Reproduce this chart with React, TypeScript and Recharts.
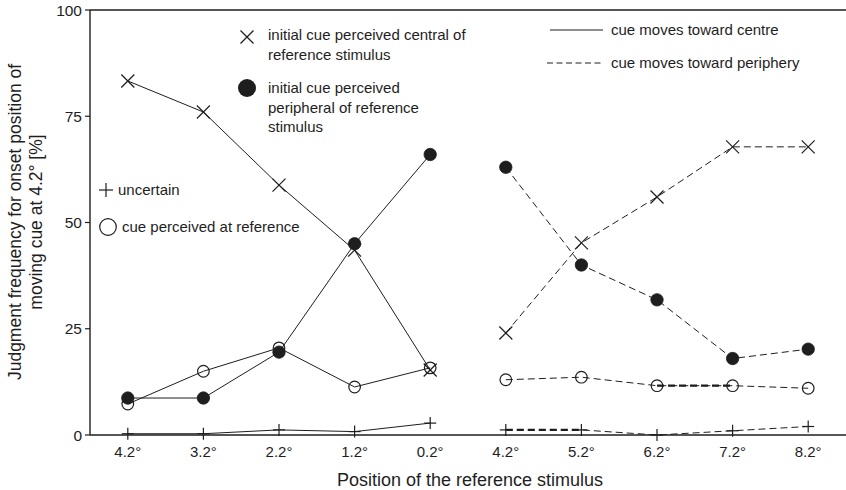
import { LineChart, Line, XAxis, YAxis, ReferenceLine, Label } from "recharts";

const labels = ["4.2°", "3.2°", "2.2°", "1.2°", "0.2°", "4.2°", "5.2°", "6.2°", "7.2°", "8.2°"];

// first five positions: cue moves toward centre, last five: toward periphery
const centralToward = [83.3, 76, 58.8, 43.5, 15.3];
const centralAway = [24, 45.2, 56, 67.8, 67.8];
const periphToward = [8.7, 8.7, 19.5, 45, 66];
const periphAway = [63, 40, 31.8, 18, 20.2];
const atRefToward = [7.3, 15, 20.5, 11.3, 15.8];
const atRefAway = [13, 13.6, 11.6, 11.6, 11];
const uncertainToward = [0.3, 0.3, 1.2, 0.8, 2.8];
const uncertainAway = [1.2, 1.2, 0, 1.0, 2.0];

// segments printed heavier in the original (duplicated strokes)
const heavyAtRef = [7, 8];
const heavyUncertain = [5, 6];

const yTicks = [0, 25, 50, 75, 100];

const data = labels.map((label, i) => {
  const left = i < 5;
  const j = left ? i : i - 5;
  return {
    idx: i,
    label,
    cT: left ? centralToward[j] : null,
    cA: left ? null : centralAway[j],
    pT: left ? periphToward[j] : null,
    pA: left ? null : periphAway[j],
    rT: left ? atRefToward[j] : null,
    rA: left ? null : atRefAway[j],
    uT: left ? uncertainToward[j] : null,
    uA: left ? null : uncertainAway[j],
    rH: heavyAtRef.includes(i) ? atRefAway[j] : null,
    uH: heavyUncertain.includes(i) ? uncertainAway[j] : null,
  };
});

const INK = "#1e1e1e";
const FONT = "'Liberation Sans', Arial, Helvetica, sans-serif";
const DASH = "7 4";

const hasPoint = (p: any) => p.cx != null && p.cy != null && p.value != null && !isNaN(p.cy);

const CrossDot = (p: any) => {
  if (!hasPoint(p)) return <g key={p.key} />;
  const s = 6.5;
  return (
    <g key={p.key} stroke={INK} strokeWidth={1.2}>
      <line x1={p.cx - s} y1={p.cy - s} x2={p.cx + s} y2={p.cy + s} />
      <line x1={p.cx - s} y1={p.cy + s} x2={p.cx + s} y2={p.cy - s} />
    </g>
  );
};

const FilledDot = (p: any) => {
  if (!hasPoint(p)) return <g key={p.key} />;
  return <circle key={p.key} cx={p.cx} cy={p.cy} r={6.2} fill={INK} stroke={INK} strokeWidth={0.8} />;
};

const OpenDot = (p: any) => {
  if (!hasPoint(p)) return <g key={p.key} />;
  return <circle key={p.key} cx={p.cx} cy={p.cy} r={5.8} fill="none" stroke={INK} strokeWidth={1.2} />;
};

const PlusDot = (p: any) => {
  if (!hasPoint(p)) return <g key={p.key} />;
  const s = 6;
  return (
    <g key={p.key} stroke={INK} strokeWidth={1.2}>
      <line x1={p.cx - s} y1={p.cy} x2={p.cx + s} y2={p.cy} />
      <line x1={p.cx} y1={p.cy - s} x2={p.cx} y2={p.cy + s} />
    </g>
  );
};

function Legends() {
  const t = { fontSize: 15, fill: INK, fontFamily: FONT } as const;
  return (
    <svg
      width={846}
      height={490}
      style={{ position: "absolute", left: 0, top: 0, pointerEvents: "none" }}
    >
      <g stroke={INK} strokeWidth={1.2}>
        <line x1={240.5} y1={30.5} x2={253.5} y2={43.5} />
        <line x1={240.5} y1={43.5} x2={253.5} y2={30.5} />
      </g>
      <text x={268} y={40} {...t}>initial cue perceived central of</text>
      <text x={268} y={60} {...t}>reference stimulus</text>

      <circle cx={247} cy={88} r={9} fill={INK} />
      <text x={268} y={93} {...t}>initial cue perceived</text>
      <text x={268} y={113} {...t}>peripheral of reference</text>
      <text x={268} y={132} {...t}>stimulus</text>

      <line x1={550} y1={30} x2={603} y2={30} stroke={INK} strokeWidth={1.2} />
      <text x={611} y={35} {...t}>cue moves toward centre</text>
      <line x1={547} y1={63} x2={603} y2={63} stroke={INK} strokeWidth={1.2} strokeDasharray="6 3.5" />
      <text x={611} y={68} {...t}>cue moves toward periphery</text>

      <g stroke={INK} strokeWidth={1.2}>
        <line x1={99} y1={190} x2={113} y2={190} />
        <line x1={106} y1={183} x2={106} y2={197} />
      </g>
      <text x={118} y={195} {...t}>uncertain</text>

      <circle cx={108} cy={227} r={8.3} fill="none" stroke={INK} strokeWidth={1.2} />
      <text x={122} y={232} {...t}>cue perceived at reference</text>
    </svg>
  );
}

export default function App() {
  return (
    <div style={{ position: "absolute", left: 0, top: 0, width: 846, height: 490, background: "#fff", fontFamily: FONT }}>
      <LineChart
        width={846}
        height={490}
        data={data}
        margin={{ top: 10, right: 0, bottom: 0, left: 0 }}
        style={{ fontFamily: FONT }}
      >
        <XAxis
          dataKey="idx"
          type="category"
          tickFormatter={(v: number) => labels[v]}
          height={55}
          padding={{ left: 37.8, right: 37.8 }}
          tickLine={false}
          tickSize={0}
          tickMargin={11}
          axisLine={{ stroke: INK, strokeWidth: 1.4 }}
          tick={{ fontSize: 15, fill: INK }}
          interval={0}
        >
          <Label
            content={() => (
              <text x={470} y={486} textAnchor="middle" fontSize={18} fill={INK} fontFamily={FONT}>
                Position of the reference stimulus
              </text>
            )}
          />
        </XAxis>
        <YAxis
          domain={[0, 100]}
          ticks={yTicks}
          width={90}
          tickSize={5}
          tickMargin={3}
          axisLine={{ stroke: INK, strokeWidth: 1.4 }}
          tickLine={{ stroke: INK, strokeWidth: 1.2 }}
          tick={{ fontSize: 15.5, fill: INK }}
        >
          <Label
            content={() => (
              <g fontSize={17.5} fill={INK} fontFamily={FONT}>
                <text transform="translate(21,222) rotate(-90)" textAnchor="middle">
                  Judgment frequency for onset position of
                </text>
                <text transform="translate(42,222) rotate(-90)" textAnchor="middle">
                  moving cue at 4.2° [%]
                </text>
              </g>
            )}
          />
        </YAxis>
        <ReferenceLine y={100} stroke={INK} strokeWidth={1.4} />

        <Line dataKey="uH" stroke={INK} strokeWidth={2.2} strokeDasharray={DASH} dot={false} isAnimationActive={false} />
        <Line dataKey="rH" stroke={INK} strokeWidth={2.2} strokeDasharray={DASH} dot={false} isAnimationActive={false} />
        <Line dataKey="uT" stroke={INK} strokeWidth={1} dot={PlusDot} isAnimationActive={false} />
        <Line dataKey="uA" stroke={INK} strokeWidth={1} strokeDasharray={DASH} dot={PlusDot} isAnimationActive={false} />
        <Line dataKey="rT" stroke={INK} strokeWidth={1} dot={OpenDot} isAnimationActive={false} />
        <Line dataKey="rA" stroke={INK} strokeWidth={1} strokeDasharray={DASH} dot={OpenDot} isAnimationActive={false} />
        <Line dataKey="cT" stroke={INK} strokeWidth={1} dot={CrossDot} isAnimationActive={false} />
        <Line dataKey="cA" stroke={INK} strokeWidth={1} strokeDasharray={DASH} dot={CrossDot} isAnimationActive={false} />
        <Line dataKey="pT" stroke={INK} strokeWidth={1} dot={FilledDot} isAnimationActive={false} />
        <Line dataKey="pA" stroke={INK} strokeWidth={1} strokeDasharray={DASH} dot={FilledDot} isAnimationActive={false} />
      </LineChart>
      <Legends />
    </div>
  );
}
